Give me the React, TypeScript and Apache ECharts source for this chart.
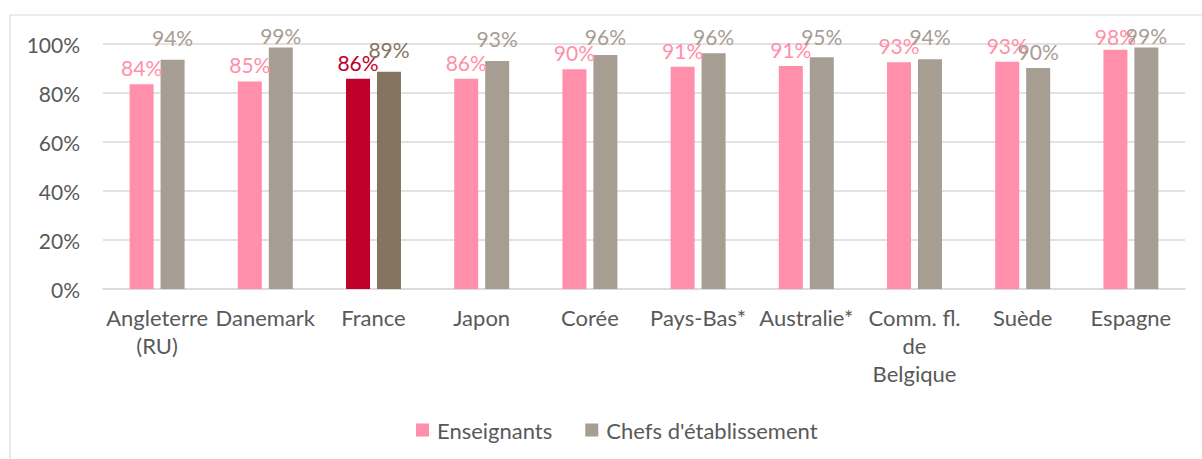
import React, { useEffect, useRef } from "react";
import * as echarts from "echarts";

const categories = [
  "Angleterre\n(RU)",
  "Danemark",
  "France",
  "Japon",
  "Corée",
  "Pays-Bas*",
  "Australie*",
  "Comm. fl.\nde\nBelgique",
  "Suède",
  "Espagne",
];
const enseignants = [83.6, 84.7, 85.8, 85.8, 89.7, 90.7, 91.0, 92.6, 92.8, 97.7];
const chefs = [93.6, 98.6, 88.7, 93.1, 95.5, 96.2, 94.6, 93.8, 90.2, 98.6];
const yTicks = [0, 20, 40, 60, 80, 100];
const highlight = "France";

const PINK = "#FF8FAB";
const GRAY = "#A69D93";
const RED = "#C0002A";
const DARK = "#857560";
const TEXT = "#595959";
const FONT = "Lato";
const GRID_TOP = 44;
const GRID_H = 245;

export default function App() {
  const ref = useRef<HTMLDivElement>(null);
  useEffect(() => {
    if (!ref.current) return;
    const chart = echarts.init(ref.current, undefined, { renderer: "svg" });
    // label distance above the bar, kept below the top of the frame
    const dist = (v: number, want: number) => {
      const barTop = GRID_TOP + GRID_H * (1 - v / 100);
      return Math.max(1, Math.min(want, barTop - 47));
    };
    const mk = (vals: number[], other: number[] | null, base: string, hi: string) =>
      vals.map((v, i) => {
        const c = categories[i] === highlight ? hi : base;
        // second series' labels sit higher, unless its bar is lower than the first one
        const want = other && v > other[i] ? 12 : 6;
        return {
          value: v,
          itemStyle: { color: c },
          label: { color: c, distance: dist(v, want) },
        };
      });
    const labelCfg = (dx: number) => ({
      show: true,
      position: "top",
      offset: [dx, 0],
      fontFamily: FONT,
      fontSize: 21,
      formatter: (p: any) => Math.round(p.value) + "%",
    });
    chart.setOption({
      animation: false,
      textStyle: { fontFamily: FONT },
      graphic: [
        {
          type: "rect",
          shape: { x: 10, y: 15, width: 1300, height: 600 },
          style: { fill: "none", stroke: "#D9D9D9", lineWidth: 1.2 },
          silent: true,
        },
      ],
      grid: { left: 103, right: 17, top: GRID_TOP, height: GRID_H, containLabel: false },
      legend: {
        left: 411,
        top: 414,
        itemWidth: 13,
        itemHeight: 13,
        itemGap: 33,
        icon: "rect",
        textStyle: { color: TEXT, fontSize: 22, fontFamily: FONT, padding: [0, 0, 0, 3] },
        data: ["Enseignants", "Chefs d'établissement"],
      },
      xAxis: {
        type: "category",
        data: categories,
        axisLine: { lineStyle: { color: "#D9D9D9", width: 1.5 } },
        axisTick: { show: false },
        axisLabel: {
          color: TEXT,
          fontSize: 22,
          fontFamily: FONT,
          lineHeight: 28,
          margin: 14,
          interval: 0,
        },
      },
      yAxis: {
        type: "value",
        min: 0,
        max: 100,
        interval: 20,
        axisLine: { show: false },
        axisTick: { show: false },
        splitLine: { lineStyle: { color: "#D9D9D9", width: 1.5 } },
        axisLabel: {
          color: TEXT,
          fontSize: 21,
          fontFamily: FONT,
          margin: 23,
          formatter: (v: number) => (yTicks.includes(v) ? v + "%" : ""),
        },
      },
      series: [
        {
          name: "Enseignants",
          type: "bar",
          barWidth: 24,
          barGap: "29%",
          itemStyle: { color: PINK },
          label: labelCfg(-10),
          labelLayout: { hideOverlap: false },
          data: mk(enseignants, null, PINK, RED),
        },
        {
          name: "Chefs d'établissement",
          type: "bar",
          barWidth: 24,
          itemStyle: { color: GRAY },
          label: labelCfg(7),
          labelLayout: { hideOverlap: false },
          data: mk(chefs, enseignants, GRAY, DARK),
        },
      ],
    });
    return () => chart.dispose();
  }, []);
  return (
    <div
      ref={ref}
      style={{ position: "absolute", left: 0, top: 0, width: 1202, height: 459, background: "#fff" }}
    />
  );
}
